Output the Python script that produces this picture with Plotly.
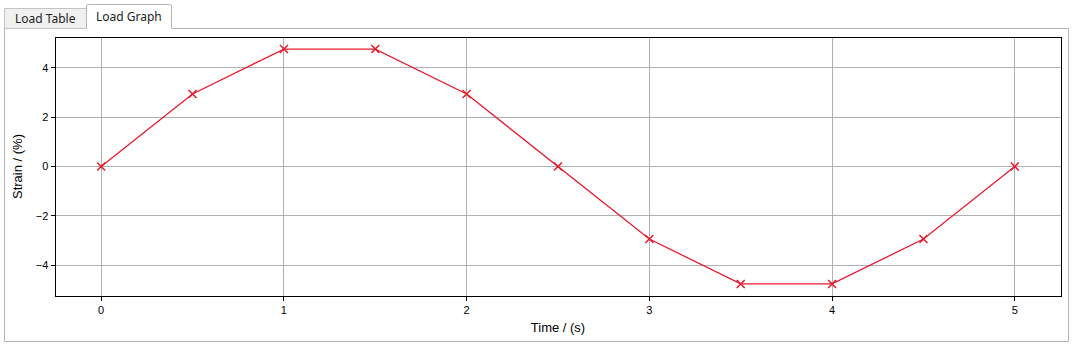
import plotly.graph_objects as go

time_s = [0, 0.5, 1, 1.5, 2, 2.5, 3, 3.5, 4, 4.5, 5]
strain_pct = [0, 2.94, 4.76, 4.76, 2.94, 0, -2.94, -4.76, -4.76, -2.94, 0]
x_ticks = [0, 1, 2, 3, 4, 5]
y_ticks = [-4, -2, 0, 2, 4]
tab_labels = ["Load Table", "Load Graph"]

W, H = 1074, 347
RED = "#e8192c"

def px(x):
    return x / W

def py(y):
    return 1 - y / H

fig = go.Figure()
fig.add_trace(go.Scatter(
    x=time_s, y=strain_pct, mode="lines+markers",
    line=dict(color=RED, width=1.3),
    marker=dict(symbol="x-thin", size=8, line=dict(color=RED, width=1.5)),
    showlegend=False, hoverinfo="x+y",
))

shapes = []
# panel border
shapes.append(dict(type="path", xref="paper", yref="paper",
                   path=f"M {px(171.5)} {py(28.5)} L {px(1068.5)} {py(28.5)} L {px(1068.5)} {py(341.5)} L {px(4.5)} {py(341.5)} L {px(4.5)} {py(28.5)}",
                   line=dict(color="#b4b4b4", width=1)))
# inactive tab
shapes.append(dict(type="rect", xref="paper", yref="paper",
                   x0=px(4.5), x1=px(86.5), y0=py(28.5), y1=py(8.5),
                   fillcolor="#f0f0f0", line=dict(color="#c4c4c4", width=1), layer="below"))
# active tab
shapes.append(dict(type="path", xref="paper", yref="paper",
                   path=f"M {px(86.5)} {py(28.5)} L {px(86.5)} {py(6)} Q {px(86.5)} {py(4.5)} {px(88.5)} {py(4.5)} L {px(169.5)} {py(4.5)} Q {px(171.5)} {py(4.5)} {px(171.5)} {py(6)} L {px(171.5)} {py(28.5)}",
                   fillcolor="white", line=dict(color="#b4b4b4", width=1)))

annotations = [
    dict(text=tab_labels[0], xref="paper", yref="paper", x=px(45.5), y=py(18.5),
         showarrow=False, font=dict(family="Noto Sans, DejaVu Sans", size=12, color="#222"),
         xanchor="center", yanchor="middle"),
    dict(text=tab_labels[1], xref="paper", yref="paper", x=px(129), y=py(16.5),
         showarrow=False, font=dict(family="Noto Sans, DejaVu Sans", size=12, color="#222"),
         xanchor="center", yanchor="middle"),
]

fig.update_layout(
    width=W, height=H, margin=dict(l=0, r=0, t=0, b=0),
    template="none", paper_bgcolor="white", plot_bgcolor="white",
    font=dict(family="Liberation Sans, Arial", size=11, color="black"),
    shapes=shapes, annotations=annotations,
    xaxis=dict(domain=[px(55.5), px(1060.5)], range=[-0.25, 5.25],
               tickvals=x_ticks, ticks="outside", ticklen=4, tickcolor="black",
               showgrid=True, gridcolor="#b0b0b0", gridwidth=1, zeroline=False,
               showline=True, linecolor="black", linewidth=1, mirror=True,
               automargin=False,
               title=dict(text="Time / (s)", font=dict(size=13), standoff=8)),
    yaxis=dict(domain=[py(295.5), py(37.5)], range=[-5.23, 5.23],
               tickvals=y_ticks, ticks="outside", ticklen=4, tickcolor="black",
               showgrid=True, gridcolor="#b0b0b0", gridwidth=1, zeroline=False,
               showline=True, linecolor="black", linewidth=1, mirror=True,
               automargin=False, tickformat="d",
               title=dict(text="Strain / (%)", font=dict(size=13), standoff=10)),
)

fig.write_html("out.html")
